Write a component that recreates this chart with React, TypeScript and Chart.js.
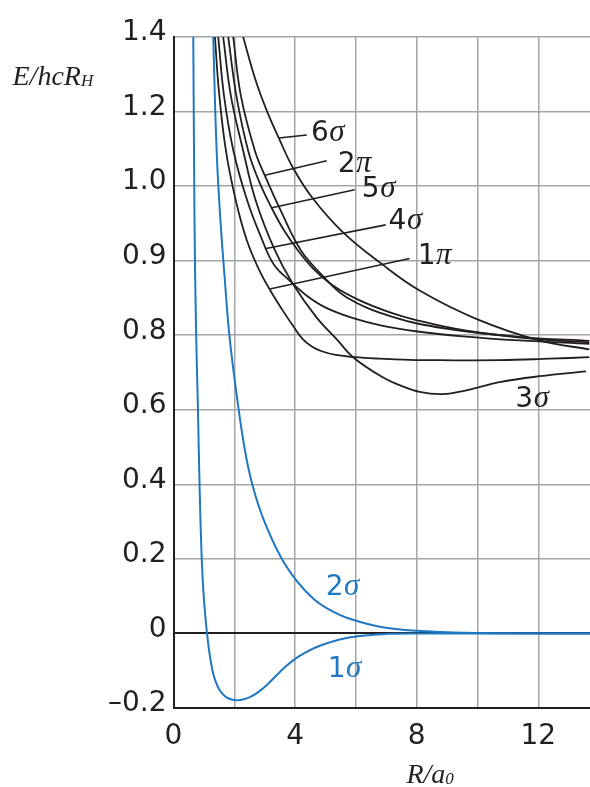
import React, { useEffect, useRef } from 'react';
import { Chart, LinearScale, registerables } from 'chart.js';

// ---------------- data ----------------
const Y_TICKS = [-0.2, 0, 0.2, 0.4, 0.6, 0.8, 0.9, 1.0, 1.2, 1.4];
const Y_TICK_LABELS = ['\u20130.2', '0', '0.2', '0.4', '0.6', '0.8', '0.9', '1.0', '1.2', '1.4'];
const X_MIN = 0;
const X_MAX = 13.7;
const X_GRID_STEP = 2;
const X_TICK_LABELS = [0, 4, 8, 12];

const R_1SIGMA = [0.621, 0.65, 0.69, 0.745, 0.798, 0.857, 0.929, 1.002, 1.1, 1.182, 1.264, 1.363, 1.511, 1.675, 1.856, 2.053, 2.25, 2.512, 2.775, 3.071, 3.366, 3.662, 3.99, 4.319, 4.811, 5.468, 6.125, 7.11, 8.095, 10.066, 13.7];
const E_1SIGMA = [1.496, 1.4, 0.954, 0.8, 0.625, 0.398, 0.2, 0.09, 0.002, -0.052, -0.092, -0.124, -0.151, -0.167, -0.176, -0.179, -0.178, -0.171, -0.158, -0.138, -0.114, -0.091, -0.069, -0.052, -0.033, -0.016, -0.007, -0.001, 0, 0, 0];

const R_2SIGMA = [1.281, 1.307, 1.419, 1.544, 1.691, 1.839, 2.102, 2.348, 2.594, 2.972, 3.53, 4.072, 4.631, 5.14, 5.698, 6.782, 7.997, 10.066, 13.7];
const E_2SIGMA = [1.496, 1.4, 1.095, 0.954, 0.873, 0.799, 0.625, 0.492, 0.399, 0.304, 0.205, 0.139, 0.091, 0.063, 0.042, 0.018, 0.007, 0.001, 0];

const R_1PI = [1.278, 1.363, 1.494, 1.724, 2.053, 2.414, 2.824, 3.186, 3.596, 3.924, 4.236, 4.548, 4.877, 5.337, 5.961, 6.782, 7.767, 8.752, 10.722, 12.365, 13.678];
const E_1PI = [1.496, 1.4, 1.255, 1.095, 0.98, 0.927, 0.887, 0.86, 0.833, 0.813, 0.791, 0.77, 0.757, 0.747, 0.741, 0.737, 0.734, 0.733, 0.733, 0.737, 0.741];

const R_4SIGMA = [1.353, 1.471, 1.662, 1.97, 2.43, 2.906, 3.3, 3.826, 4.384, 5.008, 5.829, 6.847, 8.03, 9.507, 11.379, 13.678];
const E_4SIGMA = [1.496, 1.4, 1.242, 1.095, 0.98, 0.929, 0.895, 0.873, 0.853, 0.837, 0.824, 0.813, 0.805, 0.797, 0.786, 0.777];

const R_3SIGMA = [1.478, 1.635, 1.888, 2.292, 2.709, 3.333, 3.924, 4.703, 5.402, 5.905, 6.88, 7.438, 8.095, 8.85, 9.629, 10.722, 12.036, 13.57];
const E_3SIGMA = [1.496, 1.4, 1.242, 1.095, 0.98, 0.914, 0.869, 0.824, 0.786, 0.741, 0.687, 0.666, 0.648, 0.642, 0.652, 0.674, 0.69, 0.703];

const R_5SIGMA = [1.629, 1.8, 2.069, 2.456, 2.808, 3.225, 3.645, 4.089, 4.604, 5.271, 6.108, 7.094, 8.013, 9.639, 12.003, 13.678];
const E_5SIGMA = [1.496, 1.4, 1.242, 1.095, 1.014, 0.971, 0.94, 0.914, 0.889, 0.866, 0.847, 0.831, 0.82, 0.806, 0.789, 0.781];

const R_2PI = [1.806, 1.964, 2.217, 2.677, 3.005, 3.563, 4.187, 4.877, 5.688, 7.176, 8.949, 11.461, 13.678];
const E_2PI = [1.496, 1.4, 1.242, 1.095, 1.028, 0.964, 0.914, 0.881, 0.851, 0.825, 0.809, 0.795, 0.785];

const R_6SIGMA = [1.966, 2.292, 2.709, 3.071, 3.465, 3.924, 4.591, 5.576, 6.837, 8.095, 9.957, 12.036, 13.678];
const E_6SIGMA = [1.496, 1.4, 1.282, 1.202, 1.129, 1.05, 0.983, 0.938, 0.896, 0.86, 0.822, 0.786, 0.762];

// curve labels (anchored at left edge / vertical middle of the text, in data units)
const LABEL_TEXT = ['6σ', '2π', '5σ', '4σ', '1π', '3σ', '2σ', '1σ'];
const LABEL_R = [4.59, 5.47, 6.26, 7.14, 8.1, 11.31, 5.07, 5.14];
const LABEL_E = [1.148, 1.065, 1.0, 0.957, 0.909, 0.636, 0.13, -0.089];

// leader lines from curve to label
const LEADER_R1 = [3.465, 3.005, 3.235, 3.005, 3.169];
const LEADER_E1 = [1.129, 1.029, 0.971, 0.916, 0.862];
const LEADER_R2 = [4.384, 5.041, 5.961, 6.979, 7.767];
const LEADER_E2 = [1.137, 1.068, 0.995, 0.948, 0.903];

// ---------------- styles ----------------
const INK = '#231f20';
const GRID = '#a4a5a8';
const BLUE = '#1f78c1';
const SANS = '"DejaVu Sans", sans-serif';
const SERIF = '"Liberation Serif", "DejaVu Serif", serif';

const SERIES = [
  { r: R_1SIGMA, e: E_1SIGMA, color: BLUE, width: 2 },
  { r: R_2SIGMA, e: E_2SIGMA, color: BLUE, width: 2 },
  { r: R_1PI, e: E_1PI, color: INK, width: 1.8 },
  { r: R_4SIGMA, e: E_4SIGMA, color: INK, width: 1.8 },
  { r: R_3SIGMA, e: E_3SIGMA, color: INK, width: 1.8 },
  { r: R_5SIGMA, e: E_5SIGMA, color: INK, width: 1.8 },
  { r: R_2PI, e: E_2PI, color: INK, width: 1.8 },
  { r: R_6SIGMA, e: E_6SIGMA, color: INK, width: 1.8 },
];

// ---------------- piecewise-linear y scale ----------------
function valueToUnit(v: number): number {
  const n = Y_TICKS.length;
  if (v <= Y_TICKS[0]) return (v - Y_TICKS[0]) / (Y_TICKS[1] - Y_TICKS[0]);
  for (let i = 1; i < n; i++) {
    if (v <= Y_TICKS[i]) return i - 1 + (v - Y_TICKS[i - 1]) / (Y_TICKS[i] - Y_TICKS[i - 1]);
  }
  return n - 1 + (v - Y_TICKS[n - 1]) / (Y_TICKS[n - 1] - Y_TICKS[n - 2]);
}
function unitToValue(u: number): number {
  const n = Y_TICKS.length;
  const i = Math.max(0, Math.min(n - 2, Math.floor(u)));
  return Y_TICKS[i] + (u - i) * (Y_TICKS[i + 1] - Y_TICKS[i]);
}

class SegmentedScale extends LinearScale {
  static id = 'segmented';
  static defaults = {};
  buildTicks() {
    return Y_TICKS.map((v) => ({ value: v }));
  }
  getPixelForValue(value: number) {
    return this.getPixelForDecimal(valueToUnit(value) / (Y_TICKS.length - 1));
  }
  getValueForPixel(pixel: number) {
    return unitToValue(this.getDecimalForPixel(pixel) * (Y_TICKS.length - 1));
  }
}

Chart.register(...registerables, SegmentedScale);

const annotationPlugin = {
  id: 'curveAnnotations',
  afterDatasetsDraw(chart: any) {
    const { ctx, chartArea } = chart;
    const xs = chart.scales.x;
    const ys = chart.scales.y;
    ctx.save();
    // leader lines
    ctx.strokeStyle = INK;
    ctx.lineWidth = 1.6;
    for (let i = 0; i < LEADER_R1.length; i++) {
      ctx.beginPath();
      ctx.moveTo(xs.getPixelForValue(LEADER_R1[i]), ys.getPixelForValue(LEADER_E1[i]));
      ctx.lineTo(xs.getPixelForValue(LEADER_R2[i]), ys.getPixelForValue(LEADER_E2[i]));
      ctx.stroke();
    }
    // curve labels
    ctx.textAlign = 'left';
    ctx.textBaseline = 'alphabetic';
    for (let i = 0; i < LABEL_TEXT.length; i++) {
      const t = LABEL_TEXT[i];
      const num = t.slice(0, 1);
      const greek = t.slice(1);
      const px = xs.getPixelForValue(LABEL_R[i]);
      const base = ys.getPixelForValue(LABEL_E[i]) + 10.5;
      ctx.fillStyle = LABEL_E[i] < 0.5 ? BLUE : INK;
      ctx.font = `28px ${SANS}`;
      const w = ctx.measureText(num).width;
      ctx.fillText(num, px - 2, base);
      ctx.font = `italic 31px ${SERIF}`;
      ctx.fillText(greek, px - 2 + w + 0.5, base);
    }
    // y-axis title
    ctx.fillStyle = INK;
    ctx.font = `italic 28px ${SERIF}`;
    const yx = chartArea.left - 161;
    const yb = chartArea.top + 48;
    ctx.fillText('E/hcR', yx, yb);
    const yw = ctx.measureText('E/hcR').width;
    ctx.font = `italic 17px ${SERIF}`;
    ctx.fillText('H', yx + yw, yb + 1);
    // x-axis title
    ctx.font = `italic 28px ${SERIF}`;
    const xx = xs.getPixelForValue(7.66);
    const xb = chartArea.bottom + 75;
    ctx.fillText('R/a', xx, xb);
    const xw = ctx.measureText('R/a').width;
    ctx.font = `italic 17px ${SERIF}`;
    ctx.fillText('0', xx + xw, xb + 1);
    ctx.restore();
  },
};

export default function App() {
  const ref = useRef<HTMLCanvasElement>(null);
  useEffect(() => {
    const canvas = ref.current;
    if (!canvas) return;
    const datasets = SERIES.map((s) => ({
      data: s.r.map((r, i) => ({ x: r, y: s.e[i] })),
      borderColor: s.color,
      borderWidth: s.width,
      pointRadius: 0,
      fill: false,
      tension: 0.4,
      capBezierPoints: true,
    }));
    const chart = new Chart(canvas, {
      type: 'line',
      data: { datasets },
      options: {
        responsive: false,
        animation: false,
        devicePixelRatio: 1,
        events: [],
        layout: { padding: { top: 37, right: 0, bottom: 0, left: 0 } },
        plugins: { legend: { display: false }, tooltip: { enabled: false } },
        scales: {
          x: {
            type: 'linear',
            min: X_MIN,
            max: X_MAX,
            afterFit: (s: any) => {
              s.height = 79;
            },
            ticks: {
              stepSize: X_GRID_STEP,
              includeBounds: false,
              autoSkip: false,
              maxRotation: 0,
              padding: 12,
              color: INK,
              font: { family: SANS, size: 28 },
              callback: (v: any) => (X_TICK_LABELS.includes(Number(v)) ? String(v) : ''),
            },
            grid: { drawTicks: false, color: GRID, lineWidth: 1.5 },
            border: { color: INK, width: 2 },
          },
          y: {
            type: 'segmented' as any,
            min: Y_TICKS[0],
            max: Y_TICKS[Y_TICKS.length - 1],
            afterFit: (s: any) => {
              s.width = 173.5;
            },
            ticks: {
              autoSkip: false,
              padding: 7,
              labelOffset: -4,
              color: INK,
              font: { family: SANS, size: 28 },
              callback: (_v: any, i: number) => Y_TICK_LABELS[i],
            },
            grid: {
              drawTicks: false,
              color: (c: any) => (c.tick && c.tick.value === 0 ? INK : GRID),
              lineWidth: (c: any) => (c.tick && c.tick.value === 0 ? 2 : 1.5),
            },
            border: { color: INK, width: 2 },
          },
        },
      },
      plugins: [annotationPlugin],
    } as any);
    return () => chart.destroy();
  }, []);
  return (
    <div style={{ position: 'absolute', left: 0, top: 0, width: 590, height: 787, background: '#fff' }}>
      <canvas ref={ref} width={590} height={787} style={{ display: 'block', width: 590, height: 787 }} />
    </div>
  );
}
